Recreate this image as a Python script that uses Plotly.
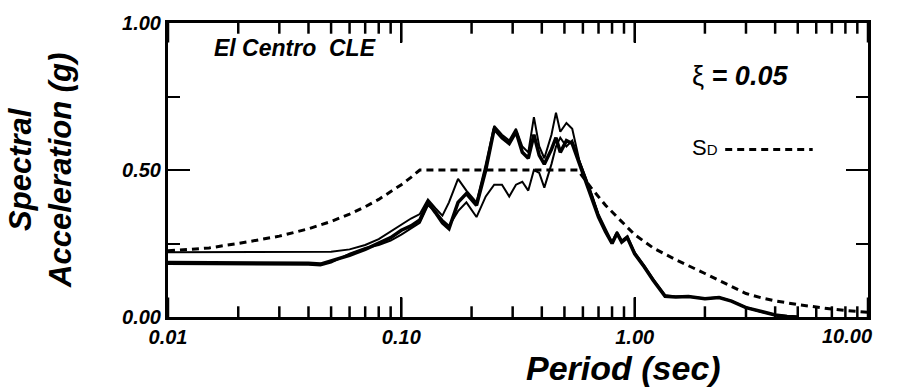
import math
import plotly.graph_objects as go

# ---------------- data ----------------
period = [0.01, 0.02, 0.03, 0.04, 0.045, 0.05, 0.06, 0.07, 0.08, 0.09, 0.10, 0.11,
          0.12, 0.13, 0.14, 0.15, 0.16, 0.175, 0.19, 0.21, 0.23, 0.25, 0.27, 0.29,
          0.31, 0.33, 0.35, 0.37, 0.39, 0.41, 0.44, 0.46, 0.48, 0.51, 0.54, 0.58,
          0.62, 0.66, 0.70, 0.75, 0.80, 0.84, 0.88, 0.93, 1.0, 1.1, 1.2, 1.35, 1.5,
          1.7, 2.0, 2.3, 2.6, 3.0, 3.5, 4.0, 4.5, 5.0]

sa_upper = [0.22, 0.22, 0.22, 0.22, 0.22, 0.222, 0.23, 0.245, 0.265, 0.29, 0.315, 0.335,
            0.35, 0.40, 0.37, 0.345, 0.39, 0.47, 0.43, 0.39, 0.52, 0.65, 0.62, 0.60,
            0.64, 0.58, 0.56, 0.68, 0.58, 0.54, 0.62, 0.695, 0.63, 0.66, 0.64, 0.53,
            0.47, 0.41, 0.35, 0.30, 0.255, 0.29, 0.26, 0.275, 0.22, 0.175, 0.13, 0.075, 0.07,
            0.07, 0.063, 0.067, 0.055, 0.033, 0.018, 0.008, 0.003, 0.0]

sa_mid = [0.185, 0.185, 0.185, 0.183, 0.18, 0.19, 0.21, 0.23, 0.25, 0.27, 0.295, 0.31,
          0.33, 0.39, 0.355, 0.32, 0.30, 0.39, 0.42, 0.38, 0.50, 0.64, 0.61, 0.59,
          0.63, 0.56, 0.54, 0.62, 0.55, 0.52, 0.57, 0.61, 0.56, 0.60, 0.59, 0.52,
          0.46, 0.40, 0.34, 0.29, 0.25, 0.285, 0.255, 0.27, 0.215, 0.17, 0.125, 0.07, 0.068,
          0.07, 0.062, 0.066, 0.054, 0.032, 0.017, 0.007, 0.002, 0.0]

sa_lower = [0.18, 0.18, 0.18, 0.178, 0.175, 0.185, 0.215, 0.235, 0.245, 0.26, 0.28, 0.30,
            0.32, 0.38, 0.36, 0.33, 0.31, 0.36, 0.39, 0.34, 0.41, 0.45, 0.45, 0.41,
            0.45, 0.46, 0.43, 0.50, 0.49, 0.44, 0.52, 0.58, 0.61, 0.58, 0.60, 0.53,
            0.47, 0.41, 0.345, 0.29, 0.25, 0.285, 0.255, 0.27, 0.215, 0.17, 0.125, 0.07, 0.068,
            0.07, 0.062, 0.066, 0.054, 0.032, 0.017, 0.007, 0.002, 0.0]

sd_period = [0.01, 0.015, 0.02, 0.03, 0.04, 0.05, 0.06, 0.07, 0.08, 0.09, 0.10, 0.11,
             0.12, 0.57, 0.65, 0.75, 0.85, 1.0, 1.2, 1.5, 2.0, 2.5, 3.0, 3.5, 4.0,
             5.0, 6.0, 7.0, 8.0, 10.0]
sd_values = [0.225, 0.235, 0.25, 0.275, 0.30, 0.325, 0.35, 0.375, 0.40, 0.425, 0.45, 0.475,
             0.50, 0.50, 0.44, 0.38, 0.335, 0.28, 0.235, 0.195, 0.148, 0.11, 0.08, 0.065, 0.055,
             0.042, 0.033, 0.027, 0.022, 0.016]

x_tickvals = [0.01, 0.1, 1, 10]
x_ticktext = ["0.01", "0.10", "1.00", ""]
x_last_label = "10.00"
x_minor = [m * d for d in (0.01, 0.1, 1) for m in range(2, 10)]
y_tickvals = [0, 0.5, 1.0]
y_ticktext = ["0.00", "0.50", "1.00"]
y_minor = [0.25, 0.75]

FONT = "Liberation Sans, Arial, Helvetica, sans-serif"
DASH = "7px,5px"
PLOT_H = 302.0
Y_MIN, Y_MAX = 0.0, 1.0

fig = go.Figure()
fig.add_trace(go.Scatter(x=sd_period, y=sd_values, mode="lines",
                         line=dict(color="black", width=3, dash=DASH), showlegend=False))
fig.add_trace(go.Scatter(x=period, y=sa_lower, mode="lines",
                         line=dict(color="black", width=2), showlegend=False))
fig.add_trace(go.Scatter(x=period, y=sa_upper, mode="lines",
                         line=dict(color="black", width=2), showlegend=False))
fig.add_trace(go.Scatter(x=period, y=sa_mid, mode="lines",
                         line=dict(color="black", width=3.5), showlegend=False))

# x-axis tick marks (bottom and mirrored top) drawn on the log axis from the tick lists
tick_x, tick_y = [], []
for vals, length in ((x_tickvals, 20), (x_minor, 11)):
    frac = (Y_MAX - Y_MIN) * length / PLOT_H
    for v in vals:
        tick_x += [v, v, None, v, v, None]
        tick_y += [Y_MIN, Y_MIN + frac, None, Y_MAX, Y_MAX - frac, None]
fig.add_trace(go.Scatter(x=tick_x, y=tick_y, mode="lines", hoverinfo="skip",
                         line=dict(color="black", width=2.5), showlegend=False))

tickfont = dict(family=FONT, size=20, color="black", weight="bold", style="italic")

fig.update_layout(
    xaxis=dict(type="log", range=[-2, 1], tickmode="array", tickvals=x_tickvals,
               ticktext=x_ticktext, ticks="inside", ticklen=20, tickwidth=2,
               tickcolor="black", showline=True, linecolor="black",
               linewidth=3, mirror="allticks", showgrid=False, zeroline=False,
               tickfont=tickfont),
    yaxis=dict(range=[Y_MIN, Y_MAX], tickmode="array", tickvals=y_tickvals,
               ticktext=y_ticktext, ticks="inside", ticklen=22, tickwidth=2,
               tickcolor="black", showline=True, linecolor="black", linewidth=3,
               mirror="allticks", showgrid=False, zeroline=False, tickfont=tickfont,
               minor=dict(tickmode="array", tickvals=y_minor, ticks="inside",
                          ticklen=12, tickwidth=2, tickcolor="black", showgrid=False)),
)

fig.add_annotation(xref="x", yref="paper", x=math.log10(x_tickvals[-1]), y=-0.063,
                   xshift=-21, xanchor="center", yanchor="middle", showarrow=False,
                   text=x_last_label, font=tickfont)

fig.add_annotation(xref="paper", yref="paper", x=0.65, y=-0.175, xanchor="center",
                   yanchor="middle", showarrow=False, text="Period (sec)",
                   font=dict(family=FONT, size=34, color="black", weight="bold", style="italic"))
fig.add_annotation(xref="paper", yref="paper", x=-0.183, y=0.5, xanchor="center",
                   yanchor="middle", showarrow=False, textangle=-90,
                   text="Spectral<br>Acceleration (g)",
                   font=dict(family=FONT, size=31, color="black", weight="bold", style="italic"))

fig.add_annotation(xref="paper", yref="paper", x=0.063, y=0.915, xanchor="left",
                   yanchor="middle", showarrow=False, text="El Centro  CLE",
                   font=dict(family=FONT, size=23, color="black", weight="bold", style="italic"))
fig.add_annotation(xref="paper", yref="paper", x=0.745, y=0.82, xanchor="left",
                   yanchor="middle", showarrow=False,
                   text="ξ <b><i>= 0.05</i></b>",
                   font=dict(family=FONT, size=27, color="black"))
fig.add_annotation(xref="paper", yref="paper", x=0.745, y=0.575, xanchor="left",
                   yanchor="middle", showarrow=False,
                   text="S<span style='font-size:15px'>D</span>",
                   font=dict(family=FONT, size=22, color="black"))
fig.add_shape(type="line", xref="paper", yref="paper", x0=0.796, x1=0.921, y0=0.57, y1=0.57,
              line=dict(color="black", width=3, dash=DASH))

fig.update_layout(width=903, height=392, margin=dict(l=168, r=35, t=15, b=75),
                  plot_bgcolor="white", paper_bgcolor="white", showlegend=False)

fig.write_html("out.html")
